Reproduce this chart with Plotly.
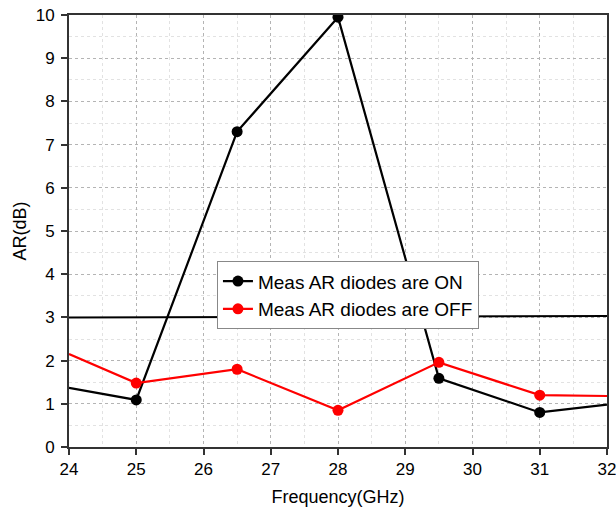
import plotly.graph_objects as go

freq = [24, 25, 26.5, 28, 29.5, 31, 32]
ar_on = [1.37, 1.09, 7.30, 9.95, 1.59, 0.80, 0.98]
ar_off = [2.15, 1.48, 1.80, 0.85, 1.96, 1.20, 1.18]
ref_x = [24, 32]
ref_y = [3.0, 3.03]

FONT = "Liberation Sans, Arial"

fig = go.Figure()
fig.add_trace(go.Scatter(x=ref_x, y=ref_y, mode="lines",
                         line=dict(color="black", width=2), showlegend=False))
for ys, col, name in [(ar_on, "black", "Meas AR diodes are ON"),
                      (ar_off, "#ff0000", "Meas AR diodes are OFF")]:
    fig.add_trace(go.Scatter(x=freq, y=ys, mode="lines",
                             line=dict(color=col, width=2.2), showlegend=False))
    fig.add_trace(go.Scatter(x=freq[1:-1], y=ys[1:-1], mode="markers",
                             marker=dict(color=col, size=11, line=dict(width=0)),
                             showlegend=False))
# legend entries
for col, name in [("black", "Meas AR diodes are ON"), ("#ff0000", "Meas AR diodes are OFF")]:
    fig.add_trace(go.Scatter(x=[None], y=[None], mode="lines+markers", name=name,
                             line=dict(color=col, width=2.2),
                             marker=dict(color=col, size=11, line=dict(width=0))))

axis_common = dict(
    showline=True, linecolor="#333333", linewidth=2, mirror=True,
    ticks="outside", ticklen=6, tickwidth=2, tickcolor="#333333",
    showgrid=True, gridcolor="#b4b4b4", gridwidth=1, griddash="dot",
    zeroline=False, automargin=False, ticklabeloverflow="allow",
    tickfont=dict(family=FONT, size=17, color="black"),
)

fig.update_xaxes(range=[24, 32], dtick=1, tick0=24,
                 title=dict(text="Frequency(GHz)", font=dict(family=FONT, size=18, color="black"), standoff=12),
                 minor=dict(dtick=0.5, showgrid=True, gridcolor="#e2e2e2", griddash="dot", gridwidth=1),
                 **axis_common)
fig.update_yaxes(range=[0, 10], dtick=1, tick0=0, ticklabelstandoff=3,
                 title=dict(text="AR(dB)", font=dict(family=FONT, size=18, color="black"), standoff=4),
                 minor=dict(dtick=0.5, showgrid=True, gridcolor="#e2e2e2", griddash="dot", gridwidth=1),
                 **axis_common)

fig.update_layout(
    width=616, height=512,
    margin=dict(l=69, r=9, t=15, b=65, autoexpand=False),
    plot_bgcolor="white", paper_bgcolor="white",
    legend=dict(x=0.275, y=0.43, xanchor="left", yanchor="top",
                bgcolor="white", bordercolor="#888888", borderwidth=1,
                font=dict(family=FONT, size=19, color="black"),
                tracegroupgap=0, itemwidth=30),
    showlegend=True,
)

fig.write_html("out.html")
